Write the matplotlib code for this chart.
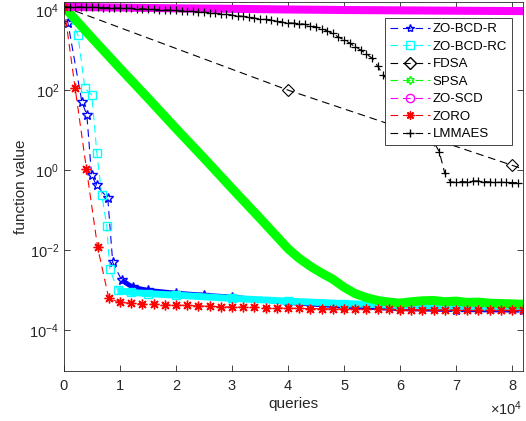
import matplotlib.pyplot as plt
from matplotlib.lines import Line2D

plt.rcParams['font.family'] = ['Liberation Sans', 'DejaVu Sans']
plt.rcParams['mathtext.default'] = 'regular'
plt.rcParams['lines.scale_dashes'] = False

# ---- data ----
bcd_r_x = [0, 710, 3200, 4080, 4920, 5810, 7820, 8700, 10300, 12250,
           15000, 20000, 25000, 30000, 40000, 50000, 60000, 70000, 82000]
bcd_r_y = [1.2e4, 4.7e3, 50, 24, 0.75, 0.42, 0.2, 5.0e-3, 1.8e-3, 1.2e-3,
           1.0e-3, 8.5e-4, 7.6e-4, 6.8e-4, 5.0e-4, 4.0e-4, 3.5e-4, 3.3e-4, 3.2e-4]

bcd_rc_x = [0, 2490, 3730, 4970, 5860, 6750, 7640, 8170, 9590, 12000,
            15000, 20000, 30000, 40000, 50000, 60000, 70000, 82000]
bcd_rc_y = [1.2e4, 2.4e3, 1.1e2, 75, 2.7, 0.24, 4.0e-2, 3.5e-3, 1.0e-3, 8.9e-4,
            8.3e-4, 7.6e-4, 6.3e-4, 5.4e-4, 4.7e-4, 4.2e-4, 3.9e-4, 3.7e-4]

fdsa_x = [0, 40000, 80000, 120000]
fdsa_y = [1.2e4, 100, 1.33, 0.018]

spsa_x = [0, 5000, 10000, 15000, 20000, 25000, 30000, 35000, 40000, 42000,
          44000, 46000, 48000, 50000, 52000, 54000, 56000, 58000, 60000, 62000,
          64000, 66000, 68000, 70000, 72000, 74000, 76000, 78000, 80000, 82000]
spsa_y = [1.2e4, 2.0e3, 3.5e2, 63, 11, 2.0, 0.35, 0.063, 1.1e-2, 6.3e-3,
          4.0e-3, 2.7e-3, 1.9e-3, 1.2e-3, 8.3e-4, 6.6e-4, 5.6e-4, 5.1e-4, 4.8e-4, 5.2e-4,
          5.5e-4, 5.6e-4, 5.2e-4, 5.4e-4, 5.0e-4, 5.1e-4, 4.8e-4, 4.7e-4, 4.6e-4, 4.5e-4]

scd_x = [0, 10000, 20000, 30000, 40000, 50000, 60000, 70000, 82000]
scd_y = [1.2e4, 1.15e4, 1.1e4, 1.07e4, 1.03e4, 1.0e4, 9.8e3, 9.6e3, 9.4e3]

zoro_x = list(range(0, 82001, 2000))
zoro_y = [1.2e4, 1.1e2, 1.1, 1.2e-2, 6.3e-4, 5.0e-4, 4.8e-4, 4.6e-4, 4.5e-4, 4.4e-4,
          4.3e-4, 4.2e-4, 4.1e-4, 4.0e-4, 3.9e-4, 3.85e-4, 3.8e-4, 3.75e-4, 3.7e-4, 3.65e-4,
          3.6e-4, 3.55e-4, 3.5e-4, 3.5e-4, 3.45e-4, 3.45e-4, 3.4e-4, 3.4e-4, 3.35e-4, 3.35e-4,
          3.3e-4, 3.3e-4, 3.3e-4, 3.25e-4, 3.25e-4, 3.25e-4, 3.2e-4, 3.2e-4, 3.2e-4, 3.2e-4,
          3.15e-4, 3.15e-4]

lmmaes_x = list(range(0, 82000, 1000))
lmmaes_y = [1.2e4, 1.2e4, 1.2e4, 1.19e4, 1.17e4, 1.17e4, 1.16e4, 1.15e4, 1.15e4, 1.14e4,
            1.12e4, 1.11e4, 1.10e4, 1.08e4, 1.07e4, 1.05e4, 1.04e4, 1.02e4, 1.0e4, 9.9e3,
            9.8e3, 9.5e3, 9.4e3, 9.2e3, 9.0e3, 8.8e3, 8.6e3, 8.3e3, 8.0e3, 7.8e3,
            7.5e3, 7.2e3, 6.9e3, 6.6e3, 6.3e3, 6.0e3, 5.8e3, 5.5e3, 5.2e3, 5.0e3,
            4.8e3, 4.7e3, 4.6e3, 4.4e3, 4.1e3, 3.8e3, 3.4e3, 3.0e3, 2.6e3, 2.1e3,
            1.8e3, 1.5e3, 1.2e3, 1.0e3, 7.9e2, 6.3e2, 4.0e2, 2.4e2, 1.6e2, 1.05e2,
            69, 46, 30, 20, 13, 8.7, 5.2, 2.9, 0.83, 0.51,
            0.50, 0.52, 0.51, 0.54, 0.54, 0.52, 0.51, 0.50, 0.50, 0.50,
            0.49, 0.49]

labels = ['ZO-BCD-R', 'ZO-BCD-RC', 'FDSA', 'SPSA', 'ZO-SCD', 'ZORO', 'LMMAES']
colors = ['#0000ff', '#00ffff', '#000000', '#00ff00', '#ff00ff', '#ff0000', '#000000']
markers = ['*', 's', 'D', (6, 1, 0), 'o', (8, 2, 0), '+']

xticks = [0, 10000, 20000, 30000, 40000, 50000, 60000, 70000, 80000]
xtick_labels = ['0', '1', '2', '3', '4', '5', '6', '7', '8']
yticks = [1e-4, 1e-2, 1e0, 1e2, 1e4]

dash = (5.5, 3.5)
ink = '#262626'

fig = plt.figure(figsize=(5.26, 4.21), dpi=100)
ax = fig.add_axes([64 / 526, 1 - 370.5 / 421, 458.7 / 526, 368.5 / 421])
ax.set_yscale('log')

# ZO-BCD-R
ax.plot(bcd_r_x[8:], bcd_r_y[8:], color=colors[0], lw=3.5, solid_capstyle='butt')
ax.plot(bcd_r_x, bcd_r_y, color=colors[0], lw=0.8, dashes=dash, marker=markers[0],
        ms=7, mfc='none', mew=1.0)
# ZO-BCD-RC
ax.plot(bcd_rc_x[8:], bcd_rc_y[8:], color=colors[1], lw=5, solid_capstyle='butt')
ax.plot(bcd_rc_x, bcd_rc_y, color=colors[1], lw=0.8, dashes=dash, marker=markers[1],
        ms=6, mfc='none', mew=1.0)
# FDSA
ax.plot(fdsa_x, fdsa_y, color=colors[2], lw=0.8, dashes=dash, marker=markers[2],
        ms=6, mfc='none', mew=0.8)
# SPSA (dense markers -> band)
ax.plot(spsa_x, spsa_y, color=colors[3], lw=6.5, solid_capstyle='butt')
# ZO-SCD (dense markers -> band)
ax.plot(scd_x, scd_y, color=colors[4], lw=5.8, solid_capstyle='butt')
# ZORO
ax.plot(zoro_x, zoro_y, color=colors[5], lw=0.8, dashes=dash, marker=markers[5],
        ms=7, mfc='none', mew=1.0)
# LMMAES
ax.plot(lmmaes_x, lmmaes_y, color=colors[6], lw=0.8, dashes=dash, marker=markers[6],
        ms=6, mew=0.9)

ax.set_xlim(0, 81900)
ax.set_ylim(1e-5, 10 ** 4.2)
ax.set_xticks(xticks)
ax.set_xticklabels(xtick_labels)
ax.set_yticks(yticks)
ax.tick_params(which='both', direction='in', top=True, right=True, labelsize=10.5,
               width=0.6, color=ink, labelcolor=ink)
ax.tick_params(which='major', length=4)
ax.tick_params(which='minor', length=2)
ax.tick_params(axis='x', pad=6)
for s in ax.spines.values():
    s.set_linewidth(0.6)
    s.set_color(ink)

ax.set_xlabel('queries', fontsize=11, color=ink, labelpad=3)
ax.set_ylabel('function value', fontsize=11, color=ink, labelpad=1)
ax.text(1.0, -0.12, r'$\times$10$^{4}$', transform=ax.transAxes, ha='right',
        va='baseline', fontsize=10.5, color=ink)

handles = [Line2D([], [], color=c, lw=0.8, dashes=dash, marker=m, ms=6,
                  mfc='none', mew=1.0) for c, m in zip(colors, markers)]
leg = ax.legend(handles, labels, loc='upper right', bbox_to_anchor=(512 / 526, 1 - 18 / 421),
                bbox_transform=fig.transFigure, borderaxespad=0, fontsize=9.5,
                handlelength=3.0, handletextpad=0.2, labelspacing=0.4, borderpad=0.38,
                fancybox=False, framealpha=1, edgecolor=ink)
leg.get_frame().set_linewidth(0.6)

fig.savefig('out.png', dpi=100)
